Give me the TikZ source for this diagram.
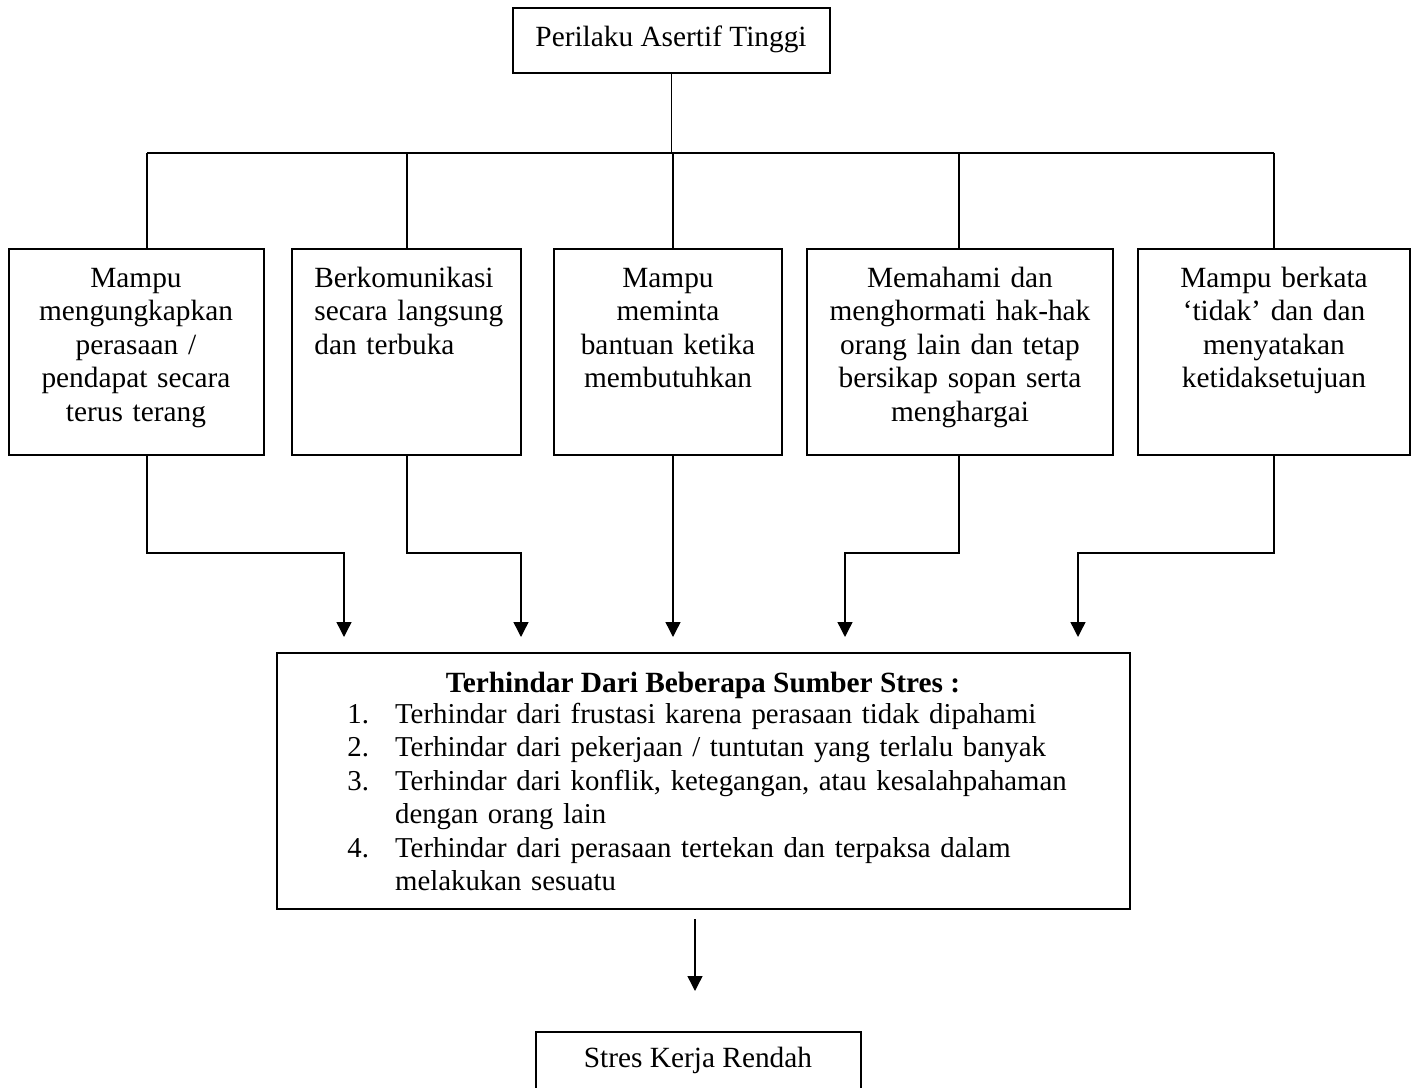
\documentclass[tikz,border=0pt]{standalone}
\usepackage{fontspec}
\setmainfont{Liberation Serif}
\usetikzlibrary{arrows.meta,fit}
\begin{document}
\begin{tikzpicture}[x=0.02cm,y=-0.02cm,
  box/.style={draw, line width=1.1pt, inner sep=0pt},
  conn/.style={line width=0.8pt},
  arr/.style={conn,-{Triangle[length=8.5pt,width=8.5pt]}},
  txt/.style={inner sep=0pt, font=\fontsize{16.7}{19.1}\selectfont}]
\useasboundingbox (0,0) rectangle (1418,1088);
\clip (0,0) rectangle (1418,1088);
% helper coordinates
\coordinate (hl) at (0,153);
\coordinate (ml) at (0,553);
\coordinate (at) at (0,637);
\coordinate (x1) at (147,0);
\coordinate (x2) at (407,0);
\coordinate (x3) at (673,0);
\coordinate (x4) at (959,0);
\coordinate (x5) at (1274,0);
\coordinate (a1) at (344,0);
\coordinate (a2) at (521,0);
\coordinate (a4) at (845,0);
\coordinate (a5) at (1078,0);
% top
\node[box, fit={(513,8)(830,73)}] (top) {};
\node[txt, anchor=base] (toptxt) at (671,47) {Perilaku Asertif Tinggi};
% boxes
\node[box, fit={(9,249)(264,455)}] (b1) {};
\node[box, fit={(292,249)(521,455)}] (b2) {};
\node[box, fit={(554,249)(782,455)}] (b3) {};
\node[box, fit={(807,249)(1113,455)}] (b4) {};
\node[box, fit={(1138,249)(1410,455)}] (b5) {};
\node[txt, anchor=base, text width=140pt, align=center] (t1) at (136,287)
  {Mampu\\ mengungkapkan\\ perasaan /\\ pendapat secara\\ terus terang};
\node[txt, anchor=base west, text width=120pt, align=left] (t2) at (314,287)
  {Berkomunikasi\\ secara langsung\\ dan terbuka};
\node[txt, anchor=base, text width=126pt, align=center] (t3) at (668,287)
  {Mampu\\ meminta\\ bantuan ketika\\ membutuhkan};
\node[txt, anchor=base, text width=170pt, align=center] (t4) at (960,287)
  {Memahami dan\\ menghormati hak-hak\\ orang lain dan tetap\\ bersikap sopan serta\\ menghargai};
\node[txt, anchor=base, text width=150pt, align=center] (t5) at (1274,287)
  {Mampu berkata\\ ‘tidak’ dan dan\\ menyatakan\\ ketidaksetujuan};
% big box
\node[box, fit={(277,653)(1130,909)}] (big) {};
\node[txt, anchor=base, font=\fontsize{16.7}{19.1}\selectfont\bfseries] (title) at (703,692)
  {Terhindar Dari Beberapa Sumber Stres :};
\node[txt, anchor=base west, text width=440pt, align=left,
      font=\fontsize{16.4}{19.1}\selectfont] (list) at (347,723)
  {\makebox[27.2pt][l]{1.}Terhindar dari frustasi karena perasaan tidak dipahami\\
   \makebox[27.2pt][l]{2.}Terhindar dari pekerjaan / tuntutan yang terlalu banyak\\
   \makebox[27.2pt][l]{3.}Terhindar dari konflik, ketegangan, atau kesalahpahaman\\
   \hspace*{27.2pt}dengan orang lain\\
   \makebox[27.2pt][l]{4.}Terhindar dari perasaan tertekan dan terpaksa dalam\\
   \hspace*{27.2pt}melakukan sesuatu};
% bottom box
\node[box, fit={(536,1032)(861,1110)}] (low) {};
\node[txt, anchor=base] (lowtxt) at (698,1067) {Stres Kerja Rendah};
\coordinate (s1) at (695,919);
\coordinate (s2) at (695,991);
% upper connectors
\draw[conn] (top.south) -- (top.south |- hl);
\draw[conn] (x1 |- hl) -- (x5 |- hl);
\draw[conn] (x1 |- hl) -- (b1.north -| x1);
\draw[conn] (x2 |- hl) -- (b2.north -| x2);
\draw[conn] (x3 |- hl) -- (b3.north -| x3);
\draw[conn] (x4 |- hl) -- (b4.north -| x4);
\draw[conn] (x5 |- hl) -- (b5.north -| x5);
% lower connectors
\draw[arr] (b1.south -| x1) -- (x1 |- ml) -- (a1 |- ml) -- (a1 |- at);
\draw[arr] (b2.south -| x2) -- (x2 |- ml) -- (a2 |- ml) -- (a2 |- at);
\draw[arr] (b3.south -| x3) -- (x3 |- at);
\draw[arr] (b4.south -| x4) -- (x4 |- ml) -- (a4 |- ml) -- (a4 |- at);
\draw[arr] (b5.south -| x5) -- (x5 |- ml) -- (a5 |- ml) -- (a5 |- at);
\draw[arr] (s1) -- (s2);
\end{tikzpicture}
\end{document}
